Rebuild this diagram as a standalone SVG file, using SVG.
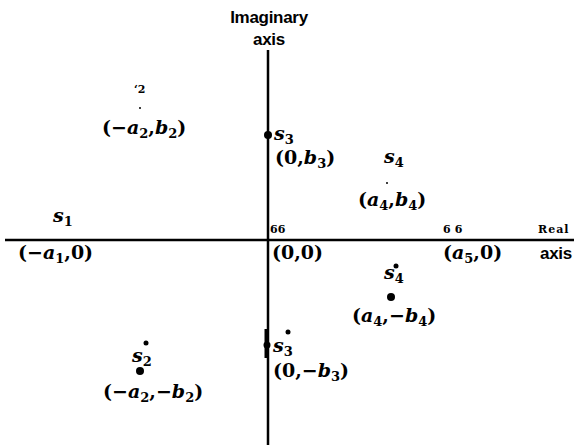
<svg xmlns="http://www.w3.org/2000/svg" width="580" height="445" viewBox="0 0 580 445">
<style>
.lab{font-family:"DejaVu Serif",serif;font-weight:bold;font-size:19px;fill:#000}
.v{font-style:italic}
.sub{font-size:13px}
.sm{font-family:"DejaVu Serif",serif;font-weight:bold;font-size:11px;fill:#000}
.ax{font-family:"Liberation Sans",sans-serif;font-weight:bold;font-size:17px;fill:#000;letter-spacing:-0.3px}
.axis{stroke:#000;stroke-width:2.5;fill:none}
</style>
<rect width="580" height="445" fill="#fff"/>
<g id="connectors">
<line class="axis" x1="268" y1="50" x2="268" y2="445"/>
<line class="axis" x1="5" y1="240" x2="574" y2="240"/>
<line x1="266" y1="329" x2="266" y2="358" stroke="#000" stroke-width="3"/>
</g>
<g id="imag-label">
<text class="ax" x="269" y="23" text-anchor="middle">Imaginary</text>
<text class="ax" x="269" y="45" text-anchor="middle">axis</text>
</g>
<g id="real-label">
<text class="sm" x="538" y="233" font-size="12" letter-spacing="1">Real</text>
<text class="ax" x="540" y="259">axis</text>
</g>
<g id="s2">
<text class="sm" x="134" y="93" font-size="14">‘2</text>
<circle cx="140" cy="108" r="1"/>
<text class="lab" x="102" y="134">(−<tspan class="v">a</tspan><tspan class="sub" dy="4">2</tspan><tspan dy="-4">,</tspan><tspan class="v">b</tspan><tspan class="sub" dy="4">2</tspan><tspan dy="-4">)</tspan></text>
</g>
<g id="s3">
<circle cx="268" cy="135" r="4"/>
<text class="lab" x="274" y="140" font-size="16"><tspan class="v">s</tspan><tspan class="sub" dy="4">3</tspan></text>
<text class="lab" x="275" y="164">(0,<tspan class="v">b</tspan><tspan class="sub" dy="4">3</tspan><tspan dy="-4">)</tspan></text>
</g>
<g id="s4">
<text class="lab" x="384" y="163" font-size="16"><tspan class="v">s</tspan><tspan class="sub" dy="4">4</tspan></text>
<circle cx="387" cy="183" r="1"/>
<text class="lab" x="358" y="206">(<tspan class="v">a</tspan><tspan class="sub" dy="4">4</tspan><tspan dy="-4">,</tspan><tspan class="v">b</tspan><tspan class="sub" dy="4">4</tspan><tspan dy="-4">)</tspan></text>
</g>
<g id="s1">
<text class="lab" x="53" y="222" font-size="16"><tspan class="v">s</tspan><tspan class="sub" dy="4">1</tspan></text>
<text class="lab" x="18" y="259">(−<tspan class="v">a</tspan><tspan class="sub" dy="4">1</tspan><tspan dy="-4">,0)</tspan></text>
</g>
<g id="origin">
<text class="sm" x="270" y="233" font-size="12">66</text>
<text class="lab" x="272" y="259">(0,0)</text>
</g>
<g id="s5">
<text class="sm" x="443" y="233" font-size="12" letter-spacing="4">66</text>
<text class="lab" x="443" y="259">(<tspan class="v">a</tspan><tspan class="sub" dy="4">5</tspan><tspan dy="-4">,0)</tspan></text>
</g>
<g id="s4star">
<circle cx="396" cy="266" r="2.5"/>
<text class="lab" x="384" y="279" font-size="16"><tspan class="v">s</tspan><tspan class="sub" dy="4">4</tspan></text>
<circle cx="391" cy="297" r="4"/>
<text class="lab" x="352" y="322">(<tspan class="v">a</tspan><tspan class="sub" dy="4">4</tspan><tspan dy="-4">,−</tspan><tspan class="v">b</tspan><tspan class="sub" dy="4">4</tspan><tspan dy="-4">)</tspan></text>
</g>
<g id="s3star">
<circle cx="267" cy="345" r="3.5"/>
<circle cx="288" cy="332" r="2.5"/>
<text class="lab" x="273" y="352" font-size="16"><tspan class="v">s</tspan><tspan class="sub" dy="4">3</tspan></text>
<text class="lab" x="273" y="377">(0,−<tspan class="v">b</tspan><tspan class="sub" dy="4">3</tspan><tspan dy="-4">)</tspan></text>
</g>
<g id="s2star">
<circle cx="146" cy="343" r="2.5"/>
<text class="lab" x="132" y="362" font-size="16"><tspan class="v">s</tspan><tspan class="sub" dy="4">2</tspan></text>
<circle cx="140" cy="371" r="4"/>
<text class="lab" x="103" y="398">(−<tspan class="v">a</tspan><tspan class="sub" dy="4">2</tspan><tspan dy="-4">,−</tspan><tspan class="v">b</tspan><tspan class="sub" dy="4">2</tspan><tspan dy="-4">)</tspan></text>
</g>
</svg>
